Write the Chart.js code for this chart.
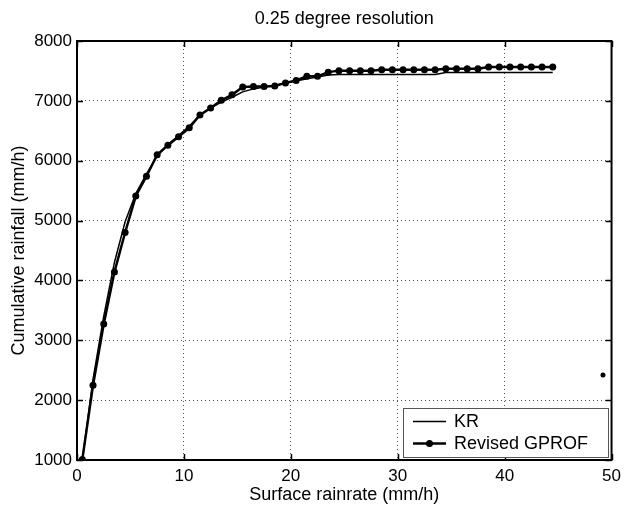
<!DOCTYPE html>
<html>
<head>
<meta charset="UTF-8">
<title>Cumulative rainfall</title>
<script src="https://cdn.jsdelivr.net/npm/chart.js@4.4.1/dist/chart.umd.min.js"></script>
<style>
  html, body { margin: 0; padding: 0; background: #fff; }
  #box { width: 627px; height: 508px; }
</style>
</head>
<body>
<div id="box"><canvas id="myChart"></canvas></div>

<script>
  // surface rainrate bins (mm/h)
  let rainrate = [0.5, 1.5, 2.5, 3.5, 4.5, 5.5, 6.5, 7.5, 8.5, 9.5,
                  10.5, 11.5, 12.5, 13.5, 14.5, 15.5, 16.5, 17.5, 18.5, 19.5,
                  20.5, 21.5, 22.5, 23.5, 24.5, 25.5, 26.5, 27.5, 28.5, 29.5,
                  30.5, 31.5, 32.5, 33.5, 34.5, 35.5, 36.5, 37.5, 38.5, 39.5,
                  40.5, 41.5, 42.5, 43.5, 44.5];
  // cumulative rainfall, KR
  let krValues = [1000, 2350, 3400, 4300, 4980, 5450, 5780, 6080, 6270, 6420,
                  6580, 6760, 6880, 6980, 7060, 7150, 7200, 7230, 7260, 7300,
                  7330, 7370, 7400, 7430, 7440, 7440, 7440, 7440, 7440, 7440,
                  7440, 7440, 7440, 7440, 7475, 7475, 7475, 7475, 7475, 7475,
                  7475, 7475, 7475, 7475, 7475];
  // cumulative rainfall, Revised GPROF
  let gprofValues = [1010, 2250, 3270, 4140, 4800, 5410, 5740, 6100, 6260, 6400,
                     6550, 6765, 6880, 7010, 7100, 7230, 7240, 7240, 7250, 7300,
                     7340, 7410, 7410, 7480, 7505, 7505, 7505, 7505, 7520, 7520,
                     7520, 7520, 7520, 7520, 7535, 7535, 7535, 7535, 7565, 7565,
                     7565, 7565, 7565, 7565, 7565];
  // lone point near the right edge
  let strayX = [49.2];
  let strayY = [2420];

  let xTicks = [0, 10, 20, 30, 40, 50];
  let yTicks = [1000, 2000, 3000, 4000, 5000, 6000, 7000, 8000];
  let legendNames = ['KR', 'Revised GPROF'];

  function toPoints(xs, ys) {
    let arr = [];
    xs.forEach(function(x, i) { arr.push({x: x, y: ys[i]}); });
    return arr;
  }
</script>

<script>
  const FONT = "'Liberation Sans', Arial, Helvetica, sans-serif";

  // frame, inward ticks, title and legend like the matlab figure
  const matlabLook = {
    id: 'matlabLook',
    afterDraw(chart) {
      const ctx = chart.ctx;
      const a = chart.chartArea;
      const sx = chart.scales.x, sy = chart.scales.y;
      ctx.save();
      // inward tick marks
      ctx.strokeStyle = '#000';
      ctx.lineWidth = 1.5;
      ctx.beginPath();
      xTicks.forEach(function(v) {
        const px = Math.round(sx.getPixelForValue(v)) + 0.5;
        ctx.moveTo(px, a.bottom); ctx.lineTo(px, a.bottom - 6);
        ctx.moveTo(px, a.top); ctx.lineTo(px, a.top + 6);
      });
      yTicks.forEach(function(v) {
        const py = Math.round(sy.getPixelForValue(v)) + 0.5;
        ctx.moveTo(a.left, py); ctx.lineTo(a.left + 6, py);
        ctx.moveTo(a.right, py); ctx.lineTo(a.right - 6, py);
      });
      ctx.stroke();
      // frame
      ctx.lineWidth = 2;
      ctx.strokeRect(a.left, a.top, a.right - a.left, a.bottom - a.top);

      // title
      ctx.fillStyle = '#000';
      ctx.font = '18px ' + FONT;
      ctx.textAlign = 'center';
      ctx.textBaseline = 'middle';
      ctx.fillText('0.25 degree resolution', (a.left + a.right) / 2, 19);

      // legend box
      const bx = 403, by = 408, bw = 205, bh = 49;
      ctx.fillStyle = '#fff';
      ctx.fillRect(bx, by, bw, bh);
      ctx.strokeStyle = '#555';
      ctx.lineWidth = 1;
      ctx.strokeRect(bx + 0.5, by + 0.5, bw, bh);
      ctx.strokeStyle = '#000';
      ctx.lineWidth = 1.5;
      ctx.beginPath(); ctx.moveTo(413, 421.5); ctx.lineTo(446, 421.5); ctx.stroke();
      ctx.lineWidth = 2.5;
      ctx.beginPath(); ctx.moveTo(413, 443.5); ctx.lineTo(446, 443.5); ctx.stroke();
      ctx.fillStyle = '#000';
      ctx.beginPath(); ctx.arc(429.5, 443.5, 3.5, 0, Math.PI * 2); ctx.fill();
      ctx.textAlign = 'left';
      ctx.fillText(legendNames[0], 454, 422);
      ctx.fillText(legendNames[1], 454, 444);
      ctx.restore();
    }
  };

  new Chart('myChart', {
    type: 'scatter',
    data: {
      datasets: [{
        label: legendNames[0],
        data: toPoints(rainrate, krValues),
        showLine: true,
        borderColor: '#000',
        borderWidth: 1.5,
        pointRadius: 0,
        fill: false
      }, {
        label: legendNames[1],
        data: toPoints(rainrate, gprofValues),
        showLine: true,
        borderColor: '#000',
        backgroundColor: '#000',
        borderWidth: 2.5,
        pointRadius: 3.5,
        pointBorderWidth: 0,
        fill: false
      }, {
        label: '',
        data: toPoints(strayX, strayY),
        showLine: false,
        backgroundColor: '#000',
        pointRadius: 2.5,
        pointBorderWidth: 0
      }]
    },
    options: {
      responsive: true,
      maintainAspectRatio: false,
      animation: false,
      layout: { padding: { left: 0, right: 14, top: 41, bottom: 0 } },
      plugins: {
        legend: { display: false },
        tooltip: { enabled: false }
      },
      scales: {
        x: {
          type: 'linear',
          min: 0, max: 50,
          afterFit: function(s) { s.height = 48; },
          afterBuildTicks: function(s) { s.ticks = xTicks.map(function(v) { return {value: v}; }); },
          grid: { color: '#555', lineWidth: 1, drawTicks: false },
          border: { display: false, dash: [1, 3] },
          ticks: { color: '#000', font: { family: FONT, size: 17 }, padding: 6, maxRotation: 0,
                   callback: function(v) { return String(v); } },
          title: { display: true, text: 'Surface rainrate (mm/h)', color: '#000',
                   font: { family: FONT, size: 18 }, padding: { top: 0, bottom: 2 } }
        },
        y: {
          type: 'linear',
          min: 1000, max: 8000,
          afterFit: function(s) { s.width = 77; },
          afterBuildTicks: function(s) { s.ticks = yTicks.map(function(v) { return {value: v}; }); },
          grid: { color: '#555', lineWidth: 1, drawTicks: false },
          border: { display: false, dash: [1, 3] },
          ticks: { color: '#000', font: { family: FONT, size: 17 }, padding: 5,
                   callback: function(v) { return String(v); } },
          title: { display: true, text: 'Cumulative rainfall (mm/h)', color: '#000',
                   font: { family: FONT, size: 18 }, padding: { top: 8, bottom: 0 } }
        }
      }
    },
    plugins: [matlabLook]
  });
</script>
</body>
</html>
